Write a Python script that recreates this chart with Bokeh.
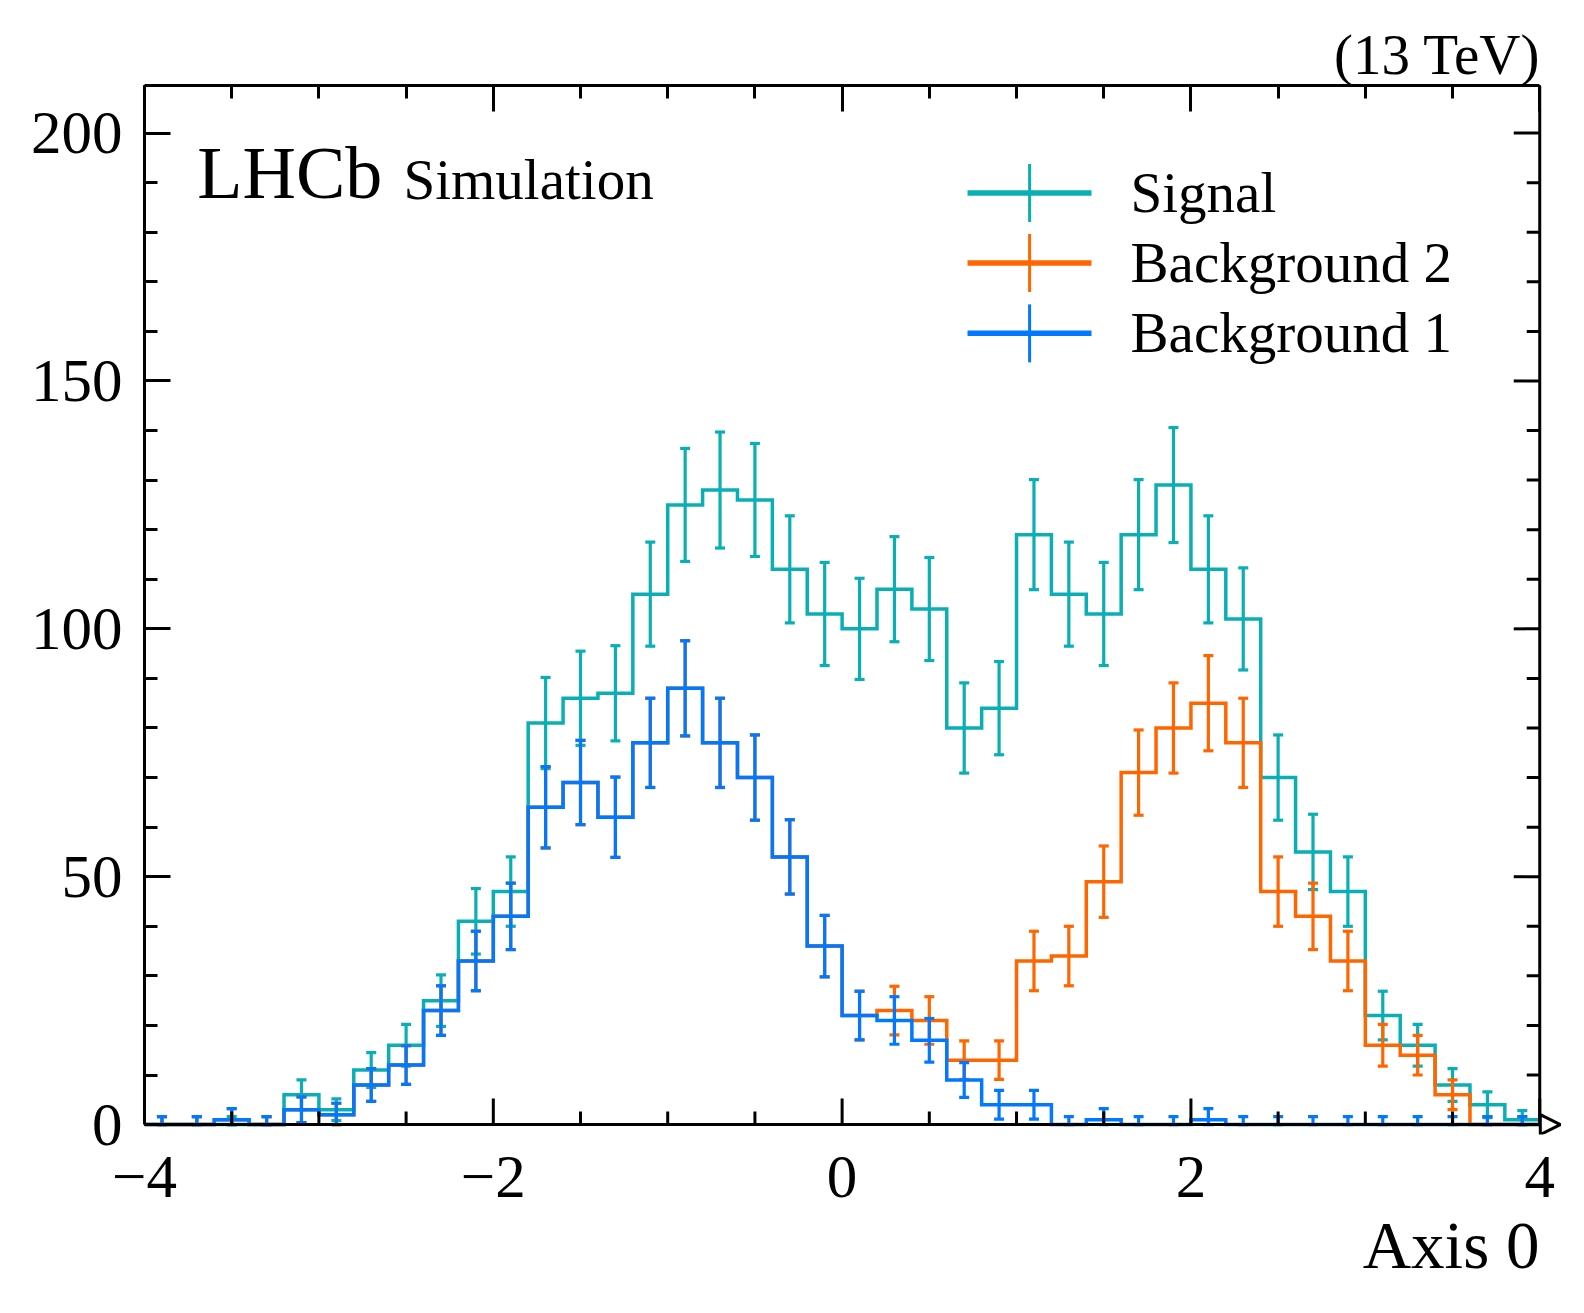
import numpy as np
from bokeh.plotting import figure
from bokeh.models import (Range1d, LinearAxis, SingleIntervalTicker, Label, Title,
                          Arrow, NormalHead, CustomJSTickFormatter)
from bokeh.embed import file_html
from bokeh.resources import INLINE

# 40 bins between -4 and 4
edges = np.linspace(-4, 4, 41)
centres = 0.5 * (edges[:-1] + edges[1:])

# stacked histograms as drawn (Signal on top of Background 2 on top of Background 1)
signal = [0, 0, 0, 0, 6, 3, 11, 16, 25, 41,
          47, 81, 86, 87, 107, 125, 128, 126, 112, 103,
          100, 108, 104, 80, 84, 119, 107, 103, 119, 129,
          112, 102, 70, 55, 47, 22, 16, 8, 4, 1]
signal_err = [1.6, 1.6, 1.6, 1.6, 3.0, 2.2, 3.5, 4.2, 5.2, 6.6,
              7.0, 9.2, 9.5, 9.6, 10.5, 11.4, 11.7, 11.4, 10.8, 10.4,
              10.2, 10.6, 10.4, 9.1, 9.4, 11.1, 10.5, 10.4, 11.1, 11.6,
              10.8, 10.3, 8.6, 7.6, 7.0, 4.9, 4.2, 3.3, 2.6, 1.8]

bkg2 = [0, 0, 1, 0, 3, 2, 8, 12, 23, 33,
        42, 64, 69, 62, 77, 88, 77, 70, 54, 36,
        22, 23, 21, 13, 13, 33, 34, 49, 71, 80,
        85, 77, 47, 42, 33, 16, 14, 6, 0, 0]
bkg2_err = [1.6, 1.6, 2.2, 1.6, 2.6, 2.3, 3.3, 3.9, 5.0, 6.0,
            6.7, 8.2, 8.5, 8.1, 9.0, 9.6, 9.0, 8.6, 7.5, 6.2,
            4.9, 4.9, 4.8, 3.9, 3.9, 6.0, 6.0, 7.2, 8.6, 9.1,
            9.6, 9.0, 7.0, 6.7, 6.0, 4.2, 4.0, 3.0, 1.6, 1.6]

bkg1 = [0, 0, 1, 0, 3, 2, 8, 12, 23, 33,
        42, 64, 69, 62, 77, 88, 77, 70, 54, 36,
        22, 21, 17, 9, 4, 4, 0, 1, 0, 0,
        1, 0, 0, 0, 0, 0, 0, 0, 0, 0]
bkg1_err = [1.6, 1.6, 2.2, 1.6, 2.6, 2.3, 3.3, 3.9, 5.0, 6.0,
            6.7, 8.2, 8.5, 8.1, 9.0, 9.6, 9.0, 8.6, 7.5, 6.2,
            4.9, 4.8, 4.4, 3.5, 2.9, 2.9, 1.6, 2.2, 1.6, 1.6,
            2.2, 1.6, 1.6, 1.6, 1.6, 1.6, 1.6, 1.6, 1.6, 1.6]

labels = ["Signal", "Background 2", "Background 1"]
x_major = [-4, -2, 0, 2, 4]
y_major = [0, 50, 100, 150, 200]
TEAL, ORANGE, BLUE = "#0AAFB6", "#FF6600", "#0078FF"
FONT = "Liberation Serif"

XPX = 174.4   # px per x unit
YPX = 4.957   # px per y unit

# frame goes a little past x=4 and below y=0 so the axis arrow is not clipped
p = figure(width=1568, height=1297,
           x_range=Range1d(-4, 4.142), y_range=Range1d(-2, 209.6),
           x_axis_type=None, y_axis_type=None,
           min_border_left=144, min_border_right=4,
           min_border_top=85, min_border_bottom=163,
           output_backend="svg", toolbar_location=None)
p.grid.visible = False
p.outline_line_color = None
p.background_fill_color = "white"


def hist(vals, errs, color):
    vals = np.array(vals, dtype=float)
    errs = np.array(errs, dtype=float)
    p.step(edges, np.append(vals, vals[-1]), mode="after",
           line_color=color, line_width=3.5, line_join="miter")
    lo = np.maximum(vals - errs, 0)
    hi = vals + errs
    p.segment(centres, lo, centres, hi, line_color=color, line_width=3.2)
    p.scatter(centres, hi, marker="dash", size=10, line_color=color, line_width=3.2)
    p.scatter(centres, lo, marker="dash", size=10, line_color=color, line_width=3.2)


hist(signal, signal_err, TEAL)
hist(bkg2, bkg2_err, ORANGE)
hist(bkg1, bkg1_err, BLUE)

# axes
xt = SingleIntervalTicker(interval=2, num_minor_ticks=4)
yt = SingleIntervalTicker(interval=50, num_minor_ticks=5)
minus = CustomJSTickFormatter(code="return tick < 0 ? '\u2212' + Math.abs(tick) : '' + tick;")
blank = CustomJSTickFormatter(code="return '';")


def style(ax):
    ax.axis_line_width = 3
    ax.major_tick_line_width = 3
    ax.minor_tick_line_width = 3
    ax.major_tick_in = 26
    ax.major_tick_out = 0
    ax.minor_tick_in = 13
    ax.minor_tick_out = 0
    ax.major_label_text_font = FONT
    ax.major_label_text_font_size = "61px"
    ax.major_label_text_color = "black"


# bottom axis: labels only (its line and ticks are drawn at y=0 below)
xb = LinearAxis(ticker=xt, formatter=minus, major_label_standoff=22)
style(xb)
xb.axis_line_color = None
xb.major_tick_line_color = None
xb.minor_tick_line_color = None
yl = LinearAxis(ticker=yt, major_label_standoff=22, bounds=(0, 209.6))
style(yl)
xa = LinearAxis(ticker=xt, formatter=blank, major_label_standoff=0, bounds=(-4, 4))
style(xa)
p.add_layout(xb, "below")
p.add_layout(yl, "left")
p.add_layout(xa, "above")

# x axis line at y=0 with inward ticks, and right frame edge with ticks
x_minor = [v for v in np.arange(-4, 4.01, 0.5) if v not in x_major]
y_minor = [v for v in range(0, 210, 10) if v not in y_major]
p.segment(x0=[-4, 4], y0=[0, 0], x1=[4, 4], y1=[0, 209.6], line_color="black", line_width=3)
p.segment(x0=x_major, y0=[0] * len(x_major), x1=x_major, y1=[26 / YPX] * len(x_major),
          line_color="black", line_width=3)
p.segment(x0=x_minor, y0=[0] * len(x_minor), x1=x_minor, y1=[13 / YPX] * len(x_minor),
          line_color="black", line_width=3)
p.segment(x0=[4] * len(y_major), y0=y_major, x1=[4 - 26 / XPX] * len(y_major), y1=y_major,
          line_color="black", line_width=3)
p.segment(x0=[4] * len(y_minor), y0=y_minor, x1=[4 - 13 / XPX] * len(y_minor), y1=y_minor,
          line_color="black", line_width=3)

# arrow head at the end of the x axis
p.add_layout(Arrow(end=NormalHead(size=20, fill_color="white", line_color="black", line_width=3),
                   x_start=3.99, y_start=0, x_end=4.118, y_end=0, line_alpha=0))

# texts outside the frame
p.add_layout(Title(text="(13 TeV)", align="right", offset=24, standoff=0,
                   text_font=FONT, text_font_size="57px", text_font_style="normal",
                   text_color="black"), "above")
p.add_layout(Title(text="Axis 0", align="right", offset=25, standoff=16, vertical_align="top",
                   text_font=FONT, text_font_size="67px", text_font_style="normal",
                   text_color="black"), "below")

# texts inside the frame
p.add_layout(Label(x=-3.697, y=192.0, text="LHCb", text_font=FONT, text_color="black",
                   text_font_size="74px", text_baseline="alphabetic"))
p.add_layout(Label(x=-2.515, y=190.6, text="Simulation", text_font=FONT, text_color="black",
                   text_font_size="57px", text_baseline="alphabetic"))

# legend drawn by hand: line with a vertical error bar through it
leg_y = np.array([187.9, 173.8, 159.6])
leg_cols = [TEAL, ORANGE, BLUE]
p.segment(x0=[0.719] * 3, y0=leg_y, x1=[1.43] * 3, y1=leg_y,
          line_color=leg_cols, line_width=5.5)
p.segment(x0=[1.075] * 3, y0=leg_y - 5.85, x1=[1.075] * 3, y1=leg_y + 5.85,
          line_color=leg_cols, line_width=3)
for name, yy in zip(labels, leg_y):
    p.add_layout(Label(x=1.654, y=yy + 0.15, text=name, text_font=FONT, text_color="black",
                       text_font_size="57px", text_baseline="alphabetic"))

open("out.html", "w").write(file_html(p, INLINE))
